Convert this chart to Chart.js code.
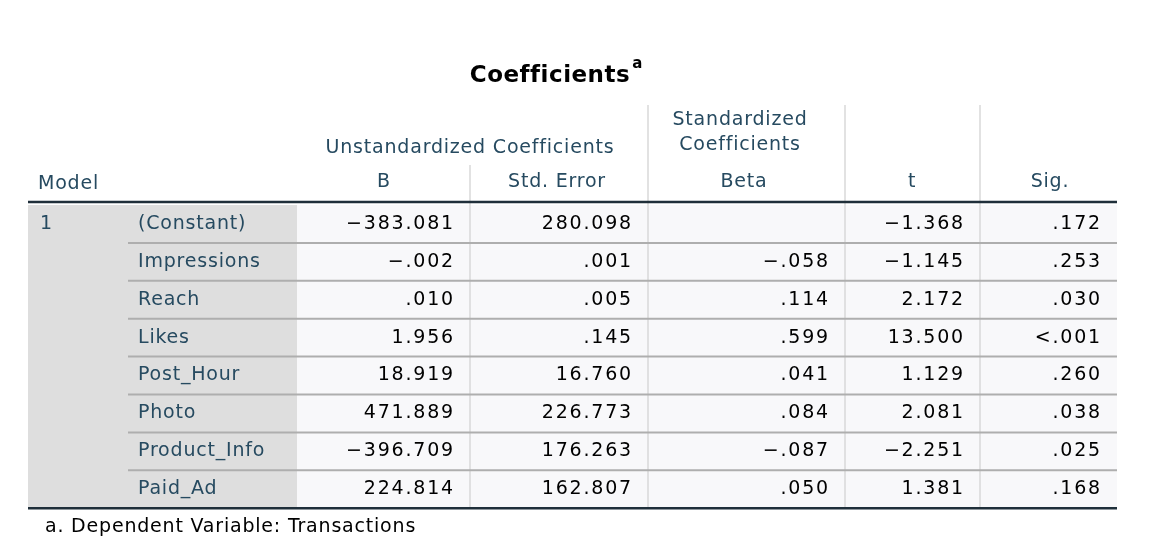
<!DOCTYPE html>
<html><head><meta charset="utf-8">
<script src="https://cdn.jsdelivr.net/npm/chart.js@4"></script>
<style>html,body{margin:0;padding:0;background:#fff}#w{width:1174px;height:554px}</style>
</head><body><div id="w"><canvas id="c"></canvas></div>
<script>
const predictors=["(Constant)","Impressions","Reach","Likes","Post_Hour","Photo","Product_Info","Paid_Ad"];
const colB=["-383.081","-.002",".010","1.956","18.919","471.889","-396.709","224.814"];
const colSE=["280.098",".001",".005",".145","16.760","226.773","176.263","162.807"];
const colBeta=["","-.058",".114",".599",".041",".084","-.087",".050"];
const colT=["-1.368","-1.145","2.172","13.500","1.129","2.081","-2.251","1.381"];
const colSig=[".172",".253",".030","<.001",".260",".038",".025",".168"];
const cols=[colB,colSE,colBeta,colT,colSig];
const edges=[28,128,297,470,648,845,980,1117];
const rowTop=205,rowH=37.9;
const HC="#264a60",F="'DejaVu Sans',sans-serif";
const tbl={id:'tbl',afterDraw(ch){
 const c=ch.ctx,X=v=>ch.scales.x.getPixelForValue(v),Y=v=>ch.scales.y.getPixelForValue(v);
 c.save();
 const n=predictors.length, bot=rowTop+n*rowH;
 c.fillStyle="#dedede";c.fillRect(X(28),Y(rowTop),X(297)-X(28),Y(bot)-Y(rowTop));
 c.fillStyle="#f8f8fa";c.fillRect(X(297),Y(rowTop),X(1117)-X(297),Y(bot)-Y(rowTop));
 c.strokeStyle="#d9d9d9";c.lineWidth=1.5;
 [[648,105,bot],[845,105,bot],[980,105,bot],[470,165,bot]].forEach(([x,a,b])=>{c.beginPath();c.moveTo(X(x),Y(a));c.lineTo(X(x),Y(b));c.stroke();});
 c.strokeStyle="#aeaeae";c.lineWidth=2;
 for(let i=1;i<n;i++){const y=Y(rowTop+i*rowH);c.beginPath();c.moveTo(X(128),y);c.lineTo(X(1117),y);c.stroke();}
 c.strokeStyle="#1f2f3a";c.lineWidth=2.5;
 [202,bot].forEach(y=>{c.beginPath();c.moveTo(X(28),Y(y));c.lineTo(X(1117),Y(y));c.stroke();});
 c.textBaseline="middle";
 c.letterSpacing="0.5px";
 c.fillStyle="#000";c.font="bold 23px "+F;c.textAlign="left";
 const tw=c.measureText("Coefficients").width;
 c.fillText("Coefficients",X(556)-tw/2-6,Y(76));
 c.font="bold 15px "+F;c.fillText("a",X(556)+tw/2-4,Y(64));
 c.letterSpacing="0.8px";
 c.fillStyle=HC;c.font="19px "+F;
 c.textAlign="left";c.fillText("Model",X(38),Y(184));
 c.textAlign="center";
 c.fillText("Unstandardized Coefficients",X(470),Y(148));
 c.fillText("B",X(384),Y(182));c.fillText("Std. Error",X(557),Y(182));
 c.fillText("Standardized",X(740),Y(120));c.fillText("Coefficients",X(740),Y(145));
 c.fillText("Beta",X(744),Y(182));c.fillText("t",X(912),Y(182));c.fillText("Sig.",X(1050),Y(182));
 c.textAlign="left";c.fillText("1",X(40),Y(rowTop+rowH/2));
 predictors.forEach((p,i)=>c.fillText(p,X(138),Y(rowTop+rowH*(i+0.5))));
 c.letterSpacing="1.8px";
 c.fillStyle="#000";c.textAlign="right";
 cols.forEach((col,j)=>col.forEach((v,i)=>c.fillText(v.replace(/-/g,"\u2212"),X(edges[j+3]-15),Y(rowTop+rowH*(i+0.5)))));
 c.letterSpacing="0.8px";
 c.textAlign="left";c.fillText("a. Dependent Variable: Transactions",X(45),Y(527));
 c.restore();}};
new Chart(document.getElementById('c'),{type:'scatter',data:{datasets:[{data:[]}]},
 options:{responsive:true,maintainAspectRatio:false,animation:false,layout:{padding:0},
 plugins:{legend:{display:false},tooltip:{enabled:false}},
 scales:{x:{type:'linear',min:0,max:1174,display:false},y:{type:'linear',min:0,max:554,reverse:true,display:false}}},
 plugins:[tbl]});
</script></body></html>
